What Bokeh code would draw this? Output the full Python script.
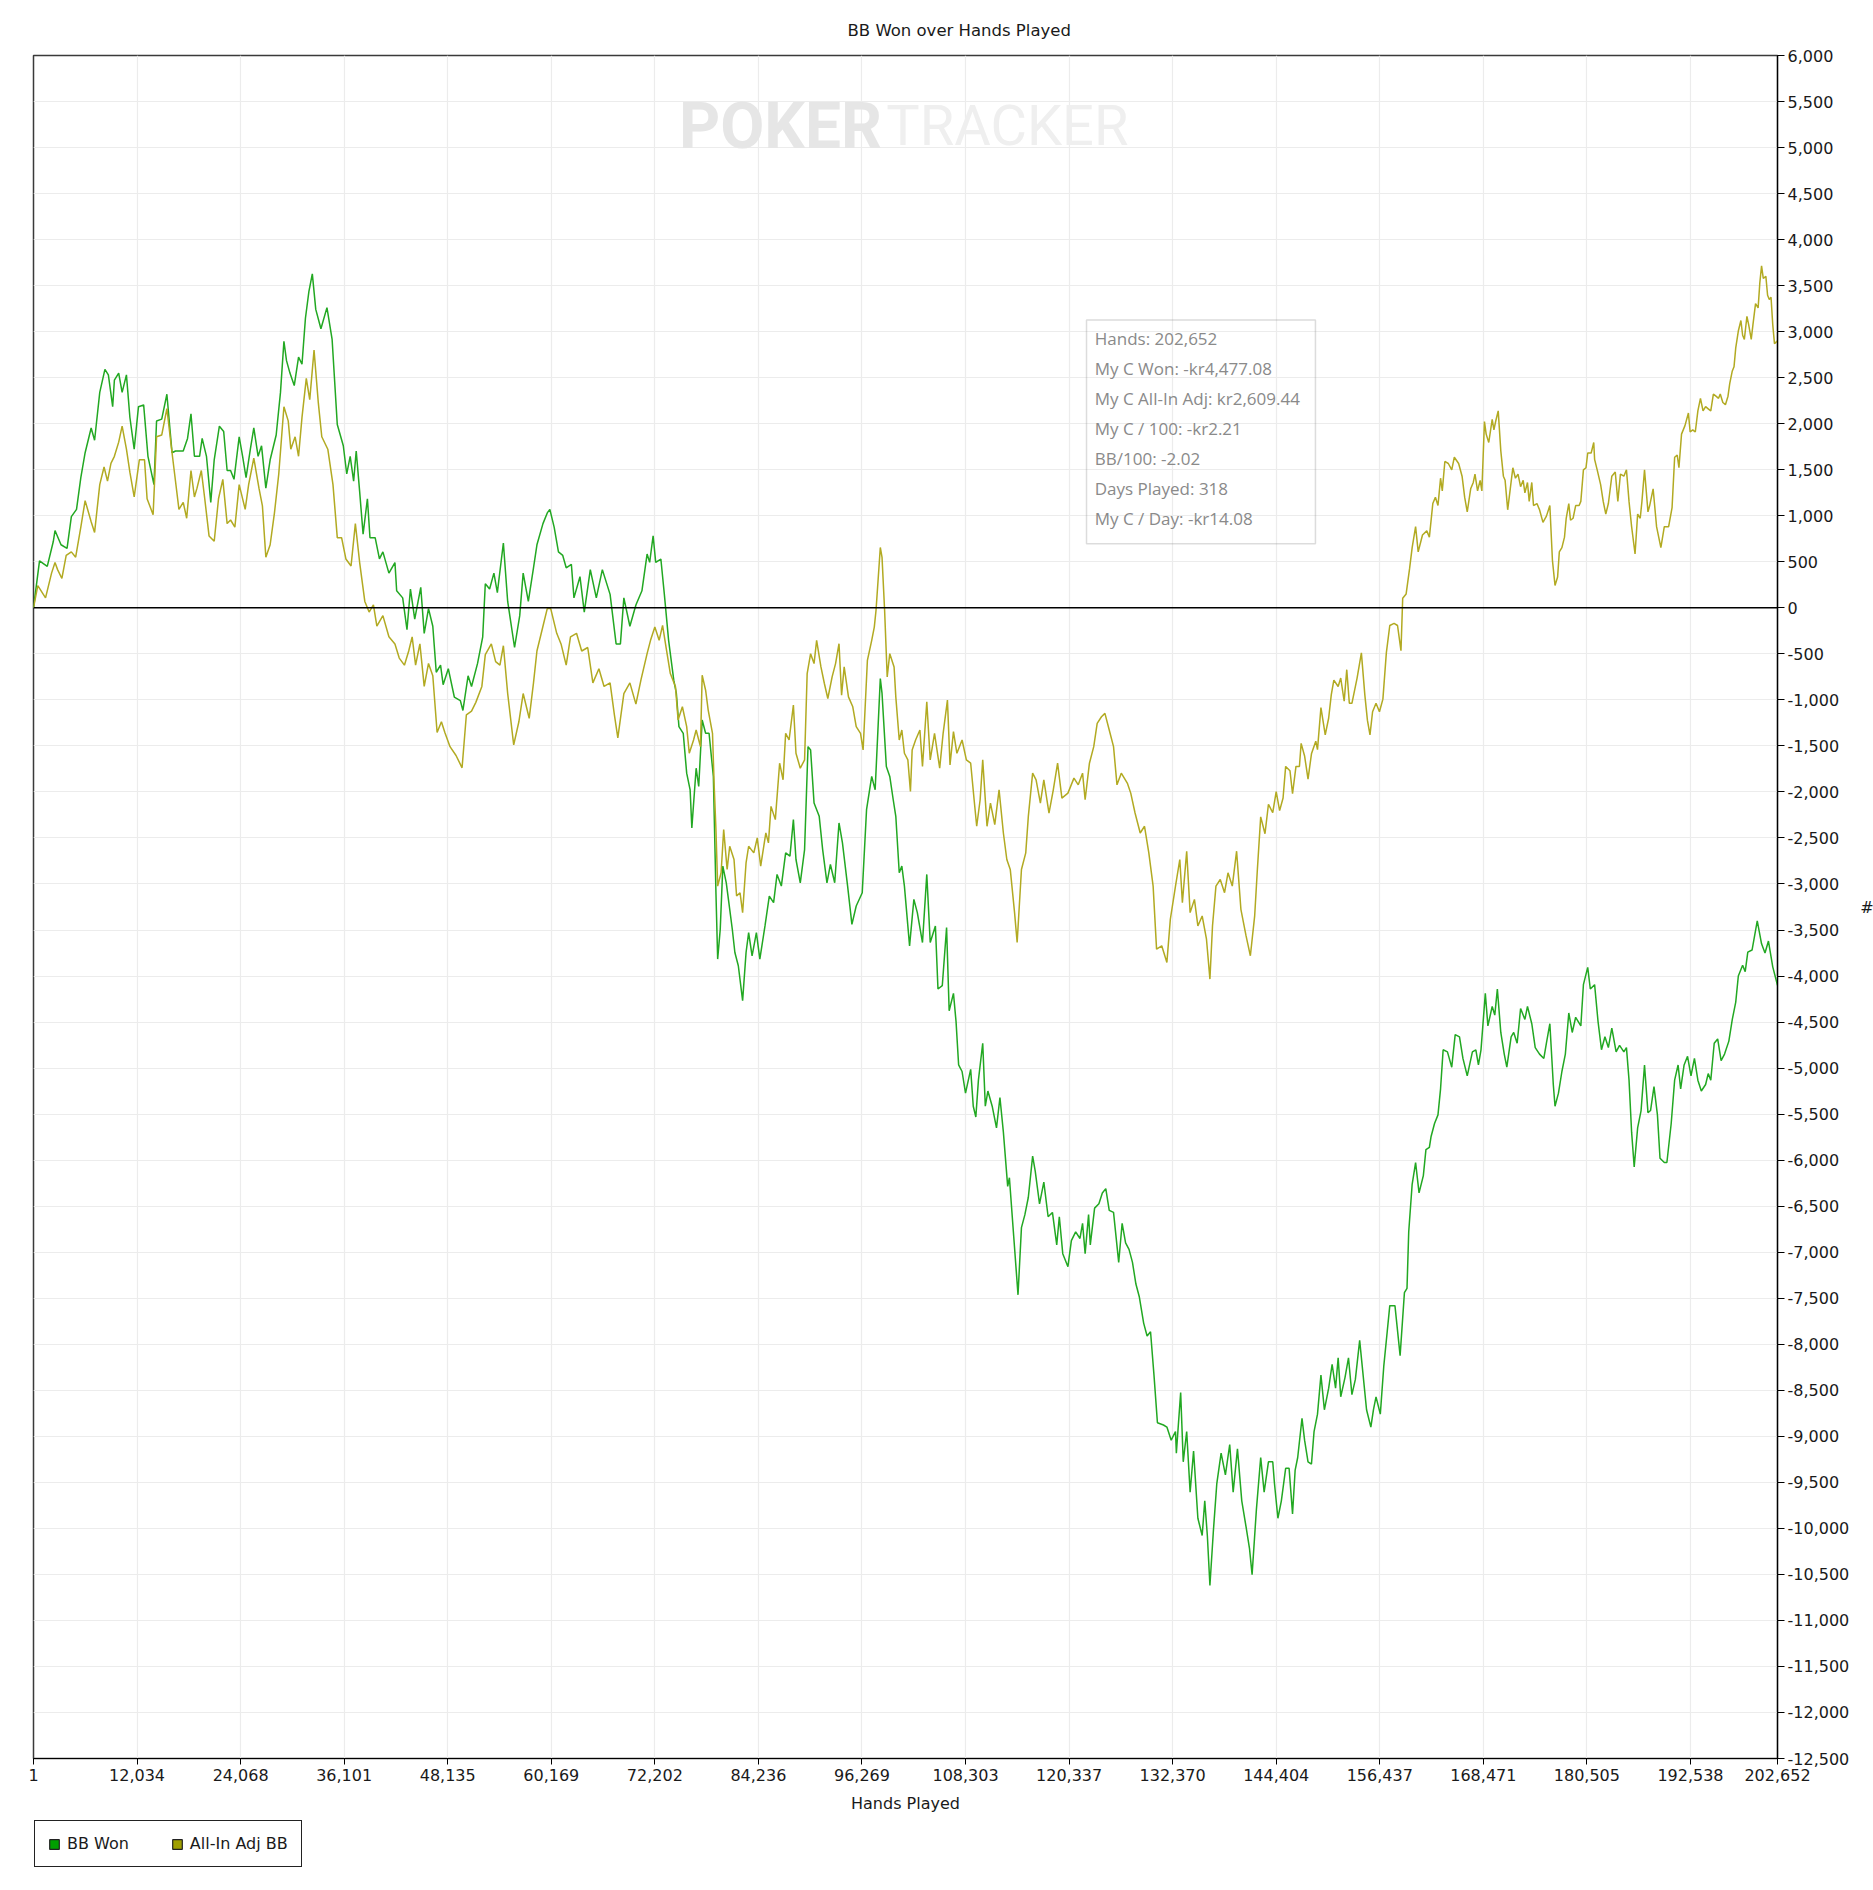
from bokeh.plotting import figure
from bokeh.layouts import column
from bokeh.models import (Range1d, FixedTicker, NumeralTickFormatter, Span, Label,
                          BoxAnnotation, Legend, LegendItem, ColumnDataSource)
from bokeh.embed import file_html
from bokeh.resources import INLINE

# ---------------- data (hands in thousands, BB) ----------------
bb_won_k = [0, 0.7, 1.6, 2.3, 2.5, 3.2, 3.9, 4.4, 5.0, 5.5, 6.0, 6.7, 7.1, 7.7, 8.3, 8.7, 9.2, 9.4, 9.9, 10.3, 10.8, 11.2, 11.7, 12.2, 12.8, 13.3, 14.0, 14.3, 14.9, 15.5, 16.1, 16.5, 17.4, 17.9, 18.3, 18.7, 19.3, 19.6, 20.1, 20.6, 21.0, 21.6, 22.1, 22.5, 22.9, 23.3, 23.9, 24.3, 24.7, 25.2, 25.6, 26.1, 26.5, 27.0, 27.5, 28.2, 28.7, 29.1, 29.4, 29.8, 30.3, 30.8, 31.2, 31.6, 32.0, 32.4, 32.8, 33.4, 34.1, 34.7, 35.3, 36.0, 36.4, 36.8, 37.2, 37.5, 37.9, 38.3, 38.8, 39.1, 39.7, 40.2, 40.6, 41.3, 42.0, 42.2, 42.9, 43.4, 43.8, 44.3, 45.0, 45.4, 45.9, 46.4, 46.8, 47.3, 47.6, 48.2, 48.9, 49.6, 49.9, 50.5, 50.9, 51.6, 52.2, 52.5, 53.0, 53.5, 53.9, 54.6, 55.1, 55.9, 56.5, 56.9, 57.5, 58.1, 58.5, 59.2, 59.7, 60.0, 60.5, 61.0, 61.5, 61.9, 62.5, 62.8, 63.5, 64.0, 64.7, 65.4, 66.1, 67.0, 67.7, 68.2, 68.6, 69.3, 70.0, 70.7,
            71.3, 71.6, 72.0, 72.3, 72.9, 73.3, 73.8, 74.4, 74.7, 75.0, 75.5, 75.9, 76.3, 76.5, 77.0, 77.3, 77.7, 78.1, 78.5, 79.0, 79.3, 79.5, 79.8, 80.1, 80.5, 80.8, 81.2, 81.5, 81.9, 82.4, 82.8, 83.1, 83.5, 84.0, 84.4, 85.0, 85.5, 86.0, 86.4, 86.9, 87.4, 87.9, 88.3, 88.6, 89.1, 89.6, 90.0, 90.3, 90.7, 91.3, 91.7, 92.2, 92.6, 93.1, 93.6, 94.0, 94.6, 95.1, 95.6, 96.3, 96.8, 97.4, 97.8, 98.4, 98.6, 99.1, 99.5, 99.9, 100.2, 100.6, 100.9, 101.2, 101.8, 102.3, 102.7, 103.3, 103.8, 104.2, 104.8, 105.1, 105.6, 106.1,
            106.4, 106.9, 107.2, 107.5, 107.9, 108.3, 108.9, 109.2, 109.5, 109.8, 110.3, 110.6, 110.9, 111.4, 111.9, 112.3, 112.7, 113.2, 113.4, 113.9, 114.4, 114.8, 115.2, 115.6, 116.1, 116.4, 116.9, 117.4, 117.9, 118.4, 118.9, 119.2, 119.6, 120.2, 120.6, 121.1, 121.6, 121.9, 122.2, 122.6, 122.8, 123.3, 123.8, 124.2, 124.6, 125.0, 125.5, 126.1, 126.5, 126.9, 127.3, 127.7, 128.1, 128.5, 129.0, 129.4, 129.8, 130.2, 130.6, 131.3, 131.7, 132.2, 132.7, 132.8, 133.3, 133.6, 134.0, 134.4, 134.8, 135.3, 135.8, 136.1, 136.4, 136.7, 137.1, 137.5, 138.0, 138.5, 139.0, 139.4, 139.9, 140.4, 140.9, 141.3, 141.6, 142.1, 142.6, 143.0, 143.5, 144.0, 144.2, 144.6, 145.0, 145.5, 145.9, 146.3, 146.6, 146.9, 147.4, 147.7, 148.1, 148.5, 148.8, 149.2, 149.6, 150.0, 150.5, 150.9, 151.3, 151.6, 151.9, 152.4, 152.8, 153.2, 153.6, 154.1, 154.4, 154.9, 155.4, 155.7, 156.0, 156.5, 156.9, 157.3, 157.6, 158.2, 158.8, 159.3, 159.6, 159.8, 160.2, 160.6, 161.0, 161.5, 161.8, 162.2, 162.4, 162.8, 163.2, 163.5, 163.8, 164.3, 164.8, 165.2, 165.7, 166.1, 166.6, 167.2, 167.6, 167.9, 168.2, 168.7, 169.0, 169.5, 169.8, 170.1, 170.5, 170.9, 171.2, 171.7, 172.0, 172.4, 172.8, 173.3, 173.6, 174.1, 174.5, 175.0, 175.5, 175.8, 176.2, 176.6, 176.8, 177.2, 177.6, 178.0, 178.4, 178.8, 179.2, 179.8, 180.1, 180.6, 180.9, 181.4, 181.8, 182.2, 182.6, 183.0, 183.4, 183.9, 184.3, 184.8, 185.1, 185.4, 185.7, 186.0, 186.4, 186.8, 187.2, 187.6, 187.9, 188.3, 188.7, 189.0, 189.5, 189.8, 190.3, 190.7, 191.1, 191.4, 191.8, 192.2, 192.6, 193.0, 193.4, 193.8, 194.3, 194.6, 194.9, 195.3, 195.7, 196.1, 196.5, 197.0, 197.4, 197.8, 198.1, 198.6, 198.9, 199.2, 199.7, 200.3, 200.8, 201.2, 201.6, 202.1, 202.652]
bb_won = [0, 510, 450, 720, 840, 685, 646, 990, 1070, 1415, 1685, 1954, 1820, 2340, 2590, 2530, 2185, 2473, 2550, 2340, 2530, 2070, 1723, 2185, 2204, 1646, 1338, 2030, 2050, 2320, 1685, 1704, 1704, 1840, 2108, 1646, 1646, 1840, 1646, 1146, 1608, 1973, 1915, 1492, 1492, 1396, 1858, 1646, 1415, 1723, 1954, 1646, 1760, 1300, 1608, 1877, 2340, 2896, 2685, 2550, 2415, 2723, 2646, 3146, 3434, 3627, 3242, 3031, 3261, 2915, 1992, 1761, 1454, 1646, 1377, 1704, 1262, 800, 1185, 762, 762, 531, 608, 377, 492, 185, 108, -238, 204, -123, 223, -277, -8, -200, -700, -623, -835, -661, -969, -1008, -1115, -738, -854, -604, -315, 262, 204, 377, 165, 704, 69, -431, -85, 377, 69, 435, 685, 915, 1031, 1069, 877, 608, 569, 435, 473, 108, 338, -46, 415, 108, 415, 146, -392, -392, 108, -200, 31, 185,
          584, 494, 783, 494, 530, 151, -353, -786, -930, -1291, -1363, -1796, -1977, -2391, -1742, -1941, -1219, -1363, -1363, -1832, -3095, -3816, -3492, -2806, -2987, -3203, -3492, -3744, -3888, -4267, -3744, -3528, -3780, -3528, -3816, -3456, -3131, -3203, -2896, -3023, -2662, -2698, -2301, -2734, -2987, -2626, -1508, -1544, -2121, -2265, -2626, -2987, -2788, -2987, -2337, -2554, -3023, -3438, -3239, -3095, -2193, -1832, -1977, -768, -930, -1724, -1832, -2085, -2265, -2878, -2806, -3023, -3672, -3167, -3311, -3636, -2896, -3636, -3456, -4141, -4105, -3474,
          -4377, -4188, -4495, -4966, -5037, -5272, -5013, -5414, -5531, -5131, -4730, -5414, -5249, -5414, -5649, -5319, -5696, -6285, -6191, -6827, -7463, -6733, -6592, -6403, -5956, -6120, -6474, -6238, -6615, -6568, -6921, -6615, -7016, -7157, -6874, -6780, -6851, -6686, -7016, -6592, -6921, -6521, -6474, -6356, -6309, -6545, -6568, -7110, -6686, -6898, -6969, -7110, -7346, -7487, -7770, -7911, -7864, -8335, -8853, -8877, -8900, -9042, -8948, -9183, -8524, -9277, -8948, -9607, -9160, -9890, -10078, -9701, -10078, -10620, -10031, -9513, -9183, -9419, -9089, -9607, -9136, -9701, -9984, -10220, -10503, -9796, -9230, -9607, -9277, -9277, -9513, -9890, -9701, -9348, -9348, -9843, -9371, -9230, -8806, -9042, -9277, -9301, -8948, -8759, -8335, -8712, -8477, -8217, -8477, -8147, -8571, -8359, -8147, -8548, -8382, -7958, -8241, -8712, -8900, -8712, -8571, -8759, -8241, -7864, -7581, -7581, -8123, -7440, -7393, -6780, -6262, -6026, -6356, -6168, -5885, -5861, -5743, -5602, -5508, -5225, -4801, -4824, -4990, -4636, -4660, -4895, -5084, -4824, -4801, -4966, -4801, -4188, -4542, -4330, -4424, -4141, -4613, -4848, -4990, -4660, -4613, -4730, -4353, -4471, -4330, -4518, -4777, -4848, -4895, -4730, -4518, -5178, -5414, -5272, -5037, -4848, -4401, -4613, -4448, -4542, -4094, -3906, -4141, -4094, -4495, -4801, -4660, -4777, -4565, -4824, -4754, -4824, -4777, -5131, -5696, -6073, -5649, -5461, -4966, -5484, -5461, -5202, -5508, -5979, -6026, -6026, -5602, -5131, -4966, -5225, -4966, -4872, -5084, -4895, -5131, -5249, -5178, -5060, -5131, -4730, -4683, -4919, -4848, -4707, -4471, -4283, -4000, -3882, -3953, -3741, -3717, -3400, -3650, -3750, -3620, -3900, -4100]

allin_k = [0, 0.5, 1.4, 2.1, 2.5, 2.8, 3.3, 3.8, 4.4, 4.9, 5.5, 6.0, 6.7, 7.1, 7.7, 8.2, 8.6, 9.0, 9.4, 9.9, 10.3, 10.8, 11.2, 11.7, 12.3, 12.9, 13.2, 13.9, 14.3, 14.9, 15.5, 16.0, 16.4, 16.9, 17.4, 17.8, 18.3, 18.7, 19.0, 19.5, 19.9, 20.4, 21.0, 21.5, 22.0, 22.5, 22.9, 23.4, 23.9, 24.6, 25.0, 25.6, 26.2, 26.6, 27.0, 27.5, 28.0, 28.5, 29.1, 29.6, 29.9, 30.4, 30.8, 31.2, 31.7, 32.1, 32.6, 33.1, 33.5, 34.2, 34.8, 35.3, 35.8, 36.3, 36.9, 37.4, 37.9, 38.5, 39.0, 39.5, 39.9, 40.6, 41.3, 42.0, 42.5, 43.1, 43.6, 44.0, 44.4, 44.9, 45.4, 45.9, 46.4, 46.9, 47.4, 47.8, 48.4, 49.1, 49.8, 50.3, 50.9, 51.4, 52.1, 52.5, 53.2, 53.7, 54.2, 54.6, 55.1, 55.8, 56.4, 56.9, 57.6, 58.1, 58.5, 59.2, 59.7, 60.1, 60.8, 61.3, 61.9, 62.4, 63.1, 63.7, 64.4, 65.0, 65.7, 66.3, 67.0, 67.5, 67.9, 68.6, 69.3, 70.0, 70.6,
            71.3, 71.7, 72.2, 72.7, 73.1, 73.5, 74.0, 74.6, 74.9, 75.4, 75.9, 76.2, 76.7, 77.0, 77.5, 77.7, 78.1, 78.4, 78.9, 79.1, 79.3, 79.5, 79.9, 80.2, 80.6, 80.9, 81.4, 81.7, 82.1, 82.4, 82.8, 83.1, 83.7, 84.1, 84.5, 85.1, 85.4, 85.7, 86.2, 86.7, 87.1, 87.4, 87.8, 88.3, 88.6, 89.1, 89.6, 89.9, 90.3, 90.7, 91.0, 91.5, 91.9, 92.3, 92.8, 93.2, 93.6, 93.9, 94.2, 94.7, 95.2, 95.6, 96.1, 96.4, 96.9, 97.4, 97.7, 97.9, 98.4, 98.6, 98.9, 99.2, 99.5, 100.0, 100.2, 100.6, 100.9, 101.2, 101.6, 101.9, 102.1, 102.5, 103.0, 103.3, 103.8, 104.2, 104.7, 105.3, 105.7, 106.2, 106.5, 106.9, 107.3, 107.9, 108.4, 108.9, 109.3, 109.6, 110.0, 110.3, 110.8, 111.2, 111.7, 112.2, 112.7, 113.1, 113.5, 114.0, 114.3, 114.8, 115.3, 115.6, 116.1, 116.5, 117.0, 117.4, 118.0, 118.5, 119.0, 119.5, 120.2, 120.9, 121.4, 121.9, 122.2, 122.7, 123.2, 123.6, 124.1, 124.5, 125.0, 125.5, 125.9, 126.4, 127.1, 127.5, 128.0, 128.6, 129.1, 129.6, 130.1, 130.5, 131.1, 131.7, 132.1, 132.7, 133.2, 133.5, 134.0, 134.4, 134.9, 135.3, 135.8, 136.3, 136.7, 137.0, 137.4, 137.9, 138.4, 138.8, 139.3, 139.8, 140.3, 140.9, 141.4, 141.9,
            142.2, 142.6, 143.1, 143.5, 144.0, 144.4, 144.8, 145.2, 145.5, 146.0, 146.3, 146.7, 147.1, 147.3, 147.7, 148.1, 148.5, 149.0, 149.2, 149.6, 150.1, 150.5, 150.8, 151.1, 151.6, 151.9, 152.3, 152.6, 152.9, 153.2, 153.8, 154.3, 154.7, 155.0, 155.3, 155.6, 156.0, 156.4, 156.8, 157.2, 157.6, 158.1, 158.5, 158.9, 159.1, 159.5, 159.9, 160.2, 160.6, 160.9, 161.4, 161.9, 162.2, 162.6, 162.9, 163.2, 163.5, 163.7, 164.0, 164.4, 164.8, 165.1, 165.6, 166.0, 166.3, 166.6, 167.0, 167.3, 167.5, 167.8, 168.1, 168.3, 168.6, 168.8, 169.1, 169.5, 169.7, 169.9, 170.2, 170.5, 170.8, 171.0, 171.3, 171.6, 171.9, 172.2, 172.5, 172.8, 173.1, 173.3, 173.6, 173.8, 174.1, 174.3, 174.7, 175.0, 175.4, 175.8, 176.2, 176.5, 176.8, 177.1, 177.3, 177.6, 177.9, 178.1, 178.4, 178.6, 178.9, 179.2, 179.6, 179.8, 180.1, 180.4, 180.6, 181.0, 181.3, 181.4, 181.7, 182.1, 182.4, 182.7, 183.0, 183.4, 183.8, 184.1, 184.4, 184.8, 185.1, 185.4, 185.7, 186.1, 186.4, 186.7, 186.9, 187.2, 187.6, 187.8, 188.2, 188.6, 189.1, 189.5, 190.0, 190.4, 190.7, 191.0, 191.2, 191.5, 191.9, 192.3, 192.5, 192.8, 193.1, 193.4, 193.7, 194.0, 194.3, 194.6, 194.9, 195.2, 195.5, 195.8, 196.0, 196.3, 196.6, 196.9, 197.1, 197.4, 197.6, 197.8, 198.1, 198.4, 198.6, 198.8, 199.1, 199.3, 199.6, 199.8, 200.1, 200.4, 200.6, 200.8, 201.0, 201.3, 201.5, 201.7, 201.9, 202.1, 202.3, 202.652]
allin_adj = [0, 242, 108, 377, 492, 415, 319, 569, 608, 550, 877, 1165, 935, 819, 1338, 1530, 1377, 1569, 1646, 1800, 1973, 1723, 1473, 1204, 1608, 1608, 1185, 1012, 1858, 1877, 2165, 1761, 1454, 1069, 1146, 973, 1492, 1204, 1300, 1492, 1185, 781, 723, 1185, 1396, 915, 954, 877, 1338, 1069, 1338, 1627, 1300, 1108, 550, 685, 1031, 1454, 2185, 2031, 1723, 1858, 1646, 2069, 2492, 2262, 2800, 2223, 1858, 1723, 1338, 762, 762, 531, 454, 915, 492, 69, -46, 31, -200, -85, -315, -392, -546, -623, -469, -315, -623, -392, -854, -604, -738, -1354, -1238, -1354, -1508, -1604, -1738, -1162, -1123, -1027, -854, -508, -392, -585, -623, -412, -931, -1488, -1238, -931, -1200, -815, -469, -200, -8, -8, -277, -392, -623, -315, -277, -469, -431, -815, -661, -854, -815, -1162, -1412, -931, -815, -1046, -777,
             -498, -353, -209, -353, -191, -426, -714, -858, -1219, -1075, -1291, -1580, -1436, -1327, -1508, -732, -895, -1111, -1363, -1941, -2409, -3023, -2878, -2409, -2842, -2590, -2734, -3131, -3095, -3311, -2770, -2590, -2662, -2500, -2806, -2446, -2554, -2157, -2301, -1688, -1868, -1363, -1436, -1057, -1580, -1742, -1652, -714, -498, -606, -353, -642, -822, -985, -750, -606, -390, -949, -642, -967, -1075, -1291, -1363, -1544, -570, -353, -209, -29, 656, 548, -29, -750, -498, -642, -967, -1436, -1327, -1580, -1652, -1995, -1544, -1436, -1327, -1724, -1021, -1652, -1363, -1742, -1363, -1003, -1706, -1345, -1580, -1436, -1652, -1688, -2085, -2373, -2085, -1652, -2373, -2121, -2355, -1977, -2446, -2734, -2842, -3311, -3636, -2842, -2662, -2265, -1796, -1868, -2121, -1868, -2229, -1977, -1688, -2067, -2013, -1850, -1923, -1796, -2085, -1688, -1508, -1255, -1183, -1147, -1327, -1508, -1923, -1796, -1904, -2013, -2229, -2446, -2373, -2662, -3023, -3708, -3672, -3852, -3383, -3023, -2734, -3203, -2644, -3311, -3167, -3456, -3347, -3600, -4033, -3456, -3023, -2951, -3095, -2878, -3023, -2644, -3275, -3564, -3780, -3347,
             -2865, -2271, -2454, -2134, -2226, -1997, -2203, -2066, -1723, -1769, -2020, -1723, -1723, -1472, -1609, -1860, -1586, -1449, -1540, -1083, -1380, -1197, -946, -786, -855, -763, -1015, -672, -1037, -1037, -763, -489, -946, -1220, -1380, -1129, -1037, -1129, -992, -489, -192, -169, -192, -466, 105, 151, 425, 654, 882, 608, 791, 836, 768, 1133, 1202, 1111, 1408, 1270, 1590, 1568, 1499, 1636, 1568, 1430, 1202, 1042, 1293, 1362, 1453, 1270, 1385, 1270, 2024, 1887, 1796, 2047, 1933, 2024, 2139, 1705, 1430, 1385, 1065, 1293, 1522, 1408, 1453, 1316, 1385, 1248, 1362, 1156, 1362, 1111, 1133, 1065, 928, 996, 1111, 516, 242, 334, 608, 654, 768, 973, 1133, 951, 973, 1111, 1111, 1156, 1499, 1522, 1682, 1682, 1796, 1613, 1499, 1339, 1156, 1019, 1133, 1430, 1476, 1156, 1453, 1430, 1499, 1156, 882, 585, 1019, 973, 1156, 1499, 1042, 1111, 1293, 882, 654, 882, 882, 1088, 1636, 1659, 1522, 1887, 1979, 2116, 1910, 1933, 1910, 2139, 2276, 2139, 2185, 2162, 2139, 2322, 2299, 2276, 2322, 2230, 2207, 2299, 2436, 2573, 2619, 2824, 3007, 3121, 2961, 2916, 3167, 3076, 2916, 3076, 3304, 3258, 3533, 3715, 3578, 3601, 3395, 3350, 3373, 3076, 2870, 2900]

x_ticks = [1, 12034, 24068, 36101, 48135, 60169, 72202, 84236, 96269, 108303,
           120337, 132370, 144404, 156437, 168471, 180505, 192538, 202652]
y_ticks = list(range(-12500, 6001, 500))
series_names = ["BB Won", "All-In Adj BB"]
tooltip_lines = ["Hands: 202,652", "My C Won: -kr4,477.08", "My C All-In Adj: kr2,609.44",
                 "My C / 100: -kr2.21", "BB/100: -2.02", "Days Played: 318", "My C / Day: -kr14.08"]

FONT = "DejaVu Sans"
GREEN_LINE, OLIVE_LINE = "#22a822", "#b2aa22"
GREEN_BOX, OLIVE_BOX = "#00a000", "#a0a000"


def to_hands(ks):
    return [max(1, round(k * 1000)) for k in ks]


src_won = ColumnDataSource(dict(x=to_hands(bb_won_k), y=bb_won))
src_adj = ColumnDataSource(dict(x=to_hands(allin_k), y=allin_adj))

p = figure(frame_width=1744, frame_height=1703, output_backend="svg", toolbar_location=None,
           x_range=Range1d(1, 202652), y_range=Range1d(-12500, 6000),
           y_axis_location="right", min_border_left=33, min_border_top=55,
           min_border_bottom=61, min_border_right=5)
p.background_fill_color = "white"
p.border_fill_color = "white"
p.outline_line_color = "#3a3a3a"
p.outline_line_width = 1.5

p.title.text = "BB Won over Hands Played"
p.title.align = "left"
p.title.offset = 814
p.title.text_font = FONT
p.title.text_font_size = "16.5px"
p.title.text_font_style = "normal"
p.title.text_color = "#1a1a1a"
p.title.standoff = 32

xa = p.xaxis[0]
xa.ticker = FixedTicker(ticks=x_ticks)
xa.formatter = NumeralTickFormatter(format="0,0")
xa.axis_label = "Hands Played"
ya = p.yaxis[0]
ya.ticker = FixedTicker(ticks=y_ticks)
ya.formatter = NumeralTickFormatter(format="0,0")
ya.axis_label = "#"
ya.axis_label_orientation = "horizontal"
for ax in (xa, ya):
    ax.axis_line_color = "black"
    ax.axis_line_width = 1.2
    ax.major_tick_line_color = "black"
    ax.major_tick_in = 0
    ax.minor_tick_line_color = None
    ax.major_label_text_font = FONT
    ax.major_label_text_font_size = "16px"
    ax.major_label_text_color = "#1a1a1a"
    ax.axis_label_text_font = FONT
    ax.axis_label_text_font_size = "16px"
    ax.axis_label_text_font_style = "normal"
    ax.axis_label_text_color = "#1a1a1a"
xa.major_tick_out = 6
xa.major_label_standoff = 4
xa.axis_label_standoff = 10
ya.major_tick_out = 7
ya.major_label_standoff = 3
ya.axis_label_standoff = 8

p.xgrid.ticker = FixedTicker(ticks=x_ticks)
p.ygrid.ticker = FixedTicker(ticks=y_ticks)
for g in (p.xgrid[0], p.ygrid[0]):
    g.grid_line_color = "#ececec"
    g.grid_line_width = 1.2

# watermark
p.add_layout(Label(x=75000, y=5230, text="POKER", text_font="Roboto", text_font_size="64px",
                   text_font_style="bold", text_color="#e6e6e6", text_baseline="alphabetic",
                   level="underlay"))
p.add_layout(Label(x=99100, y=5230, text="TRACKER", text_font="Roboto", text_font_size="56px",
                   text_font_style="normal", text_color="#efefef", text_baseline="alphabetic",
                   level="underlay"))

p.add_layout(Span(location=0, dimension="width", line_color="black", line_width=1.5))

p.line("x", "y", source=src_won, line_color=GREEN_LINE, line_width=1.5)
p.line("x", "y", source=src_adj, line_color=OLIVE_LINE, line_width=1.5)

# tooltip snapshot
p.add_layout(BoxAnnotation(left=122360, right=148960, top=3128, bottom=695,
                           fill_alpha=0, line_color="#8c8c8c", line_width=1.5))
tip_y = [2925, 2600, 2274, 1948, 1622, 1296, 970]
for txt, ty in zip(tooltip_lines, tip_y):
    p.add_layout(Label(x=123320, y=ty, text=txt, text_font="Open Sans", text_font_size="17px",
                       text_color="#8a8a8a", text_baseline="middle"))

# legend strip under the chart (proxy swatches sit outside the strip's visible range)
lg = figure(frame_width=1744, frame_height=49, output_backend="svg", toolbar_location=None,
            x_range=Range1d(0, 1), y_range=Range1d(0, 1),
            x_axis_location=None, y_axis_location=None,
            min_border_left=33, min_border_top=0, min_border_bottom=0, min_border_right=5)
lg.grid.visible = False
lg.outline_line_color = None
lg.background_fill_color = "white"
lg.border_fill_color = "white"
proxy = dict(left=[-3], right=[-2], top=[-2], bottom=[-3])
q1 = lg.quad(source=ColumnDataSource(proxy), left="left", right="right", top="top", bottom="bottom",
             fill_color=GREEN_BOX, line_color="#222222", line_width=1.2)
q2 = lg.quad(source=ColumnDataSource(proxy), left="left", right="right", top="top", bottom="bottom",
             fill_color=OLIVE_BOX, line_color="#222222", line_width=1.2)
legend = Legend(items=[LegendItem(label=series_names[0], renderers=[q1]),
                       LegendItem(label=series_names[1], renderers=[q2])],
                orientation="horizontal", location="top_left", margin=1,
                glyph_width=12, glyph_height=12, label_standoff=7, spacing=42, padding=13,
                label_text_font=FONT, label_text_font_size="16px", label_text_color="#1a1a1a",
                border_line_color="#222222", border_line_width=1.5, border_line_alpha=1.0,
                background_fill_color="white", background_fill_alpha=1.0)
lg.add_layout(legend, "center")

page = column(p, lg, spacing=0)
open("out.html", "w").write(file_html(page, INLINE))
